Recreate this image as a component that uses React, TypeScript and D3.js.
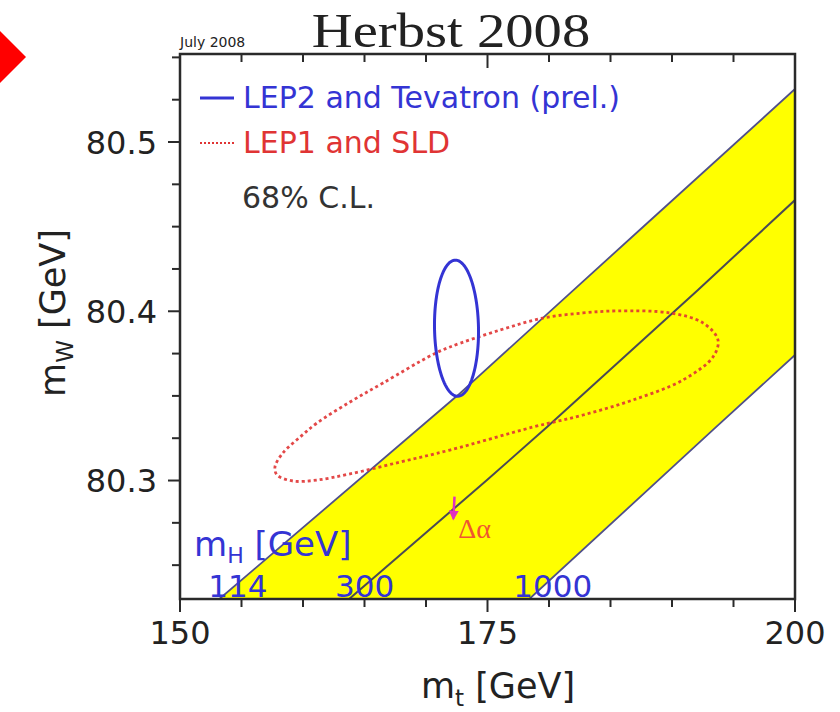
import React from 'react';
import * as d3 from 'd3';

// ---- data ----
const X_DOMAIN: [number, number] = [150, 200];
const Y_DOMAIN: [number, number] = [80.23, 80.552];
const X_LABELS = [150, 175, 200];
const X_TICKS = [150, 155, 160, 165, 170, 175, 180, 185, 190, 195, 200];
const Y_LABELS = [80.3, 80.4, 80.5];
const Y_TICKS = [80.25, 80.275, 80.3, 80.325, 80.35, 80.375, 80.4, 80.425, 80.45, 80.475, 80.5, 80.525, 80.55];

// m_W vs m_t curves for fixed Higgs masses
const MH_VALUES = ['114', '300', '1000'];
const MH_114: [number, number][] = [[153.2, 80.23], [172.6, 80.3505], [187.64, 80.4498], [200, 80.5313]];
const MH_300: [number, number][] = [[163.75, 80.23], [174.96, 80.3003], [179.84, 80.3316], [192.11, 80.4126], [200, 80.4657]];
const MH_1000: [number, number][] = [[178.4, 80.23], [193.33, 80.3299], [200, 80.3742]];

// LEP1 and SLD 68% contour (indirect)
const LEP1_CONTOUR: [number, number][] = [
  [157.72, 80.308], [158.37, 80.3163], [159.76, 80.3257], [161.14, 80.334], [163.82, 80.3464],
  [166.5, 80.3576], [170.49, 80.3742], [171.95, 80.3789], [176.02, 80.3889], [179.51, 80.396],
  [182.76, 80.399], [185.53, 80.4002], [189.84, 80.399], [192.52, 80.3931], [193.74, 80.383],
  [193.33, 80.373], [190.89, 80.3594], [186.83, 80.3476], [182.76, 80.3387], [178.7, 80.3316],
  [171.95, 80.318], [167.89, 80.3109], [163.82, 80.3039], [161.14, 80.3003], [159.19, 80.2997],
  [157.89, 80.3033],
];

// LEP2 and Tevatron direct measurement ellipse
const LEP2_CENTER: [number, number] = [172.48, 80.39];
const LEP2_SIGMA: [number, number] = [1.79, 0.0402];
const LEP2_RHO = -0.05;

// Delta alpha shift arrow
const DELTA_ALPHA: [number, number][] = [[172.32, 80.2905], [172.22, 80.2775]];

const SANS = 'DejaVu Sans, sans-serif';
const BLUE = '#3434d4';
const RED = '#e03434';

export default function App() {
  const m = { l: 180, t: 54, r: 795, b: 599 };
  const x = d3.scaleLinear().domain(X_DOMAIN).range([m.l, m.r]);
  const y = d3.scaleLinear().domain(Y_DOMAIN).range([m.b, m.t]);
  const line = d3.line<[number, number]>().x(d => x(d[0])).y(d => y(d[1]));

  const band = [...MH_114, ...MH_1000.slice().reverse()];
  const bandPath = line(band) + 'Z';

  const redPath = d3.line<[number, number]>().x(d => x(d[0])).y(d => y(d[1])).curve(d3.curveCatmullRomClosed)(LEP1_CONTOUR) as string;

  const ts = d3.range(0, 2 * Math.PI, Math.PI / 90);
  const ell: [number, number][] = ts.map(t => [
    LEP2_CENTER[0] + LEP2_SIGMA[0] * Math.cos(t),
    LEP2_CENTER[1] + LEP2_SIGMA[1] * (LEP2_RHO * Math.cos(t) + Math.sqrt(1 - LEP2_RHO * LEP2_RHO) * Math.sin(t)),
  ]);
  const bluePath = d3.line<[number, number]>().x(d => x(d[0])).y(d => y(d[1])).curve(d3.curveLinearClosed)(ell) as string;

  const mhLabelX = [152.3, 162.6, 177.1];

  return (
    <svg width={840} height={712} style={{ position: 'absolute', left: 0, top: 0, background: '#fff' }} fontFamily={SANS}>
      <defs>
        <clipPath id="plot">
          <rect x={m.l} y={m.t} width={m.r - m.l} height={m.b - m.t} />
        </clipPath>
        <marker id="ah" viewBox="0 0 10 10" refX="8" refY="5" markerWidth="4" markerHeight="4" orient="auto">
          <path d="M0,0 L10,5 L0,10 Z" fill="#e030c0" />
        </marker>
      </defs>

      {/* red diamond decoration */}
      <polygon points="26,57 -4,27 -34,57 -4,87" fill="#ff0000" />

      {/* title */}
      <text transform="translate(451,47) scale(1.18,1)" textAnchor="middle" fontFamily="Liberation Serif, Times New Roman, serif" fontSize={48} fill="#222">Herbst 2008</text>
      <text x={180} y={47} fontSize={14} fill="#222">July 2008</text>

      <g clipPath="url(#plot)">
        <path d={bandPath} fill="#ffff00" />
        <path d={line(MH_114) as string} fill="none" stroke="#50508a" strokeWidth={1.8} />
        <path d={line(MH_300) as string} fill="none" stroke="#4a4a55" strokeWidth={2} />
        <path d={line(MH_1000) as string} fill="none" stroke="#50508a" strokeWidth={1.8} />
        <path d={redPath} fill="none" stroke={RED} strokeWidth={2.8} strokeDasharray="3 3" opacity={0.9} />
        <path d={bluePath} fill="none" stroke={BLUE} strokeWidth={3} />
        <line x1={x(DELTA_ALPHA[0][0])} y1={y(DELTA_ALPHA[0][1])} x2={x(DELTA_ALPHA[1][0])} y2={y(DELTA_ALPHA[1][1])}
          stroke="#e030c0" strokeWidth={2.5} markerEnd="url(#ah)" />
      </g>
      <text x={x(DELTA_ALPHA[1][0]) + 5} y={y(DELTA_ALPHA[1][1]) + 19} fontFamily="Liberation Serif, serif" fontSize={28} fill="#f05530">Δα</text>

      {/* mH labels */}
      <text y={556} fontSize={34} fill={BLUE}>
        <tspan x={194}>m</tspan>
        <tspan fontSize={22} dy={7}>H</tspan>
        <tspan dy={-7}> [GeV]</tspan>
      </text>
      {MH_VALUES.map((v, i) => (
        <text key={v} x={x(mhLabelX[i])} y={597} fontSize={31} fill={BLUE}>{v}</text>
      ))}

      {/* legend */}
      <line x1={200} x2={234} y1={98} y2={98} stroke={BLUE} strokeWidth={3} />
      <text x={243} y={108} fontSize={30} fill={BLUE}>LEP2 and Tevatron (prel.)</text>
      <line x1={200} x2={234} y1={143} y2={143} stroke={RED} strokeWidth={2} strokeDasharray="2 2" />
      <text x={243} y={153} fontSize={30} fill={RED}>LEP1 and SLD</text>
      <text x={242} y={208} fontSize={30} fill="#333">68% C.L.</text>

      {/* frame */}
      <rect x={m.l} y={m.t} width={m.r - m.l} height={m.b - m.t} fill="none" stroke="#2a2a2a" strokeWidth={2.5} />

      {/* ticks */}
      {X_TICKS.map(v => {
        const major = X_LABELS.includes(v);
        return (
          <g key={'xt' + v} stroke="#2a2a2a" strokeWidth={2}>
            <line x1={x(v)} x2={x(v)} y1={m.b} y2={m.b + (major ? 13 : 8)} />
            <line x1={x(v)} x2={x(v)} y1={m.t} y2={m.t + (major ? 14 : 8)} />
          </g>
        );
      })}
      {Y_TICKS.map(v => {
        const major = Y_LABELS.some(l => Math.abs(l - v) < 1e-6);
        return <line key={'yt' + v} x1={m.l} x2={m.l - (major ? 12 : 8)} y1={y(v)} y2={y(v)} stroke="#2a2a2a" strokeWidth={2} />;
      })}

      {/* tick labels */}
      {X_LABELS.map(v => (
        <text key={'xl' + v} x={x(v)} y={644} textAnchor="middle" fontSize={32} fill="#222">{v}</text>
      ))}
      {Y_LABELS.map(v => (
        <text key={'yl' + v} x={157} y={y(v) + 11.5} textAnchor="end" fontSize={32} fill="#222">{v.toFixed(1)}</text>
      ))}

      {/* axis titles */}
      <text x={498} y={698} textAnchor="middle" fontSize={35} fill="#222">
        <tspan>m</tspan>
        <tspan fontSize={23} dy={8}>t</tspan>
        <tspan dy={-8}>{'  [GeV]'}</tspan>
      </text>
      <text transform={`translate(65,313) rotate(-90)`} textAnchor="middle" fontSize={35} fill="#222">
        <tspan>m</tspan>
        <tspan fontSize={23} dy={8}>W</tspan>
        <tspan dy={-8}>{'  [GeV]'}</tspan>
      </text>
    </svg>
  );
}
